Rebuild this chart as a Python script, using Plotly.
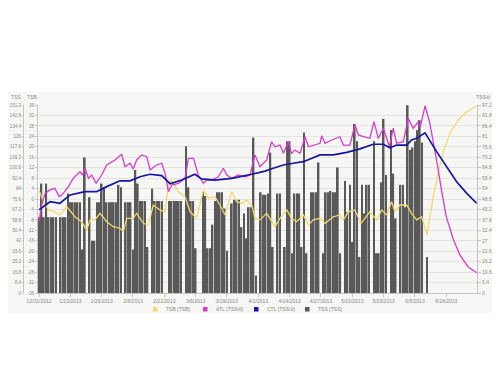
import plotly.graph_objects as go
import pandas as pd

# ---------------- data ----------------
start_date = "2012-12-31"

# daily TSS (bars), starting 12/31/2012
tss = [61, 88, 61, 88, 61, 61, 61, 61, 0, 61,
       61, 61, 80, 73, 73, 73, 73, 73, 35, 109,
       0, 77, 42, 42, 73, 73, 88, 85, 73, 73,
       73, 73, 73, 87, 85, 0, 73, 73, 73, 35,
       99, 88, 74, 74, 74, 37, 0, 84, 74, 74,
       74, 74, 0, 0, 74, 74, 74, 74, 74, 74,
       0, 118, 85, 74, 74, 36, 0, 0, 81, 78,
       36, 36, 55, 74, 81, 81, 81, 68, 34, 0,
       72, 75, 75, 75, 53, 64, 44, 69, 69, 125,
       14, 0, 81, 79, 79, 80, 113, 37, 0, 80,
       80, 0, 37, 122, 122, 32, 80, 80, 80, 37,
       129, 32, 0, 81, 81, 81, 105, 0, 32, 81,
       81, 82, 81, 81, 101, 32, 0, 90, 65, 87,
       41, 136, 122, 29, 87, 64, 87, 87, 0, 122,
       32, 32, 89, 140, 95, 0, 131, 96, 60, 0,
       87, 87, 69, 151, 115, 117, 122, 131, 139, 121,
       0, 29]

# ATL (TSS/d): (day offset from start, value)
atl_points = [(0, 36.9), (1.1, 45.5), (2.5, 51.5), (4.6, 53.3), (6.6, 54.1), (8.4, 49.8),
              (10.1, 51.5), (12.2, 55), (14.2, 59.3), (17, 62.7), (18.1, 61), (19.1, 64.5),
              (20.5, 59.3), (21.9, 61), (23.7, 56.7), (26, 61), (28.1, 66.2), (31.5, 68.8),
              (34.3, 71.7), (35.7, 65.3), (37.8, 67.1), (39.1, 64.1), (40.5, 68.8), (42.6, 71.4),
              (44.7, 70.5), (46.1, 63.6), (48.8, 66.2), (50.9, 67.1), (52.3, 62), (53.7, 52.4),
              (55.1, 55.8), (57.8, 56.7), (60.6, 59.3), (62, 69.6), (64.1, 69.6), (66.1, 61),
              (68.2, 56.7), (69.6, 58.4), (71.7, 58.4), (74.4, 60.1), (76.5, 64.5), (77.9, 61),
              (80, 59.3), (82.7, 61), (85.5, 60.1), (87.6, 61), (89.6, 71.4), (91.7, 65.3),
              (94.5, 68.8), (96.5, 78.2), (97.9, 75.6), (100, 76.5), (101.4, 72.2), (103.5, 78.2),
              (104.8, 72.2), (106.2, 73.9), (108.3, 72.2), (110.4, 80.8), (111.8, 75.6),
              (113.8, 76.5), (116.6, 77.4), (117.3, 81.3), (118.7, 77.4), (121.4, 79.1),
              (124.9, 80.8), (126.3, 76.5), (129, 76.5), (131.1, 86.9), (132.5, 81.7),
              (134.6, 80.8), (137.3, 80), (139, 88.6), (140.8, 80), (142.9, 85.2), (144.3, 79.1),
              (145.4, 75.6), (147, 85.2), (148.4, 77.4), (151.2, 78.2), (153.2, 90.3),
              (155.3, 85.2), (157.4, 88.6), (158.1, 85.2), (160.2, 96.8), (162.2, 87.7),
              (164, 76), (165.5, 65), (167, 53.3), (169, 39.5), (172, 27.4), (174.7, 19.6),
              (178, 13.6), (181.6, 10.5)]

# CTL (TSS/d)
ctl_points = [(0, 43), (4.6, 47.2), (8.7, 46.4), (12.9, 50.7), (19.1, 52.4), (23.9, 52.4),
              (28.1, 55), (33.6, 58), (37.8, 58), (41.9, 60.1), (46.1, 61.4), (50.9, 60.7),
              (54.4, 56.5), (59.2, 58.4), (64.7, 61.4), (67.5, 59), (73, 58.4), (80, 59.3),
              (88.3, 61.4), (93.8, 63), (97.2, 64.5), (101.4, 66.2), (105.5, 67.1), (109.7, 67.9),
              (116.6, 71.4), (122.1, 71.4), (127.7, 72.7), (133.2, 74.5), (138.7, 76.9),
              (142.9, 76.9), (145.6, 75.1), (148.4, 76.5), (152.6, 76.5), (154.6, 79.1),
              (156.7, 80), (160.2, 82.8), (165, 73.1), (169, 65.3), (173.3, 57.5), (177.5, 51.5),
              (181.6, 46.4)]

# TSB
tsb_points = [(0, 3.4), (1.8, -1), (3.9, -4.2), (6.6, -4.9), (8.7, -6.1), (11.5, -2.9),
              (14.9, -6.8), (17.7, -8.7), (19.8, -11.9), (21.2, -8), (23.2, -8), (25.3, -5.5),
              (28.1, -8.7), (30.8, -10.6), (33.6, -11.2), (35, -12.5), (36.4, -7.4), (39.1, -7.4),
              (40.5, -5.5), (43.3, -9.3), (45.4, -10), (47.4, -2.3), (50.2, -4.2), (52.3, -4.9),
              (53.7, 5.4), (55.1, 7.3), (57.8, 2.8), (60.6, 0.9), (62.7, -4.9), (65.4, -7.4),
              (68.2, 3.4), (70.3, 0.3), (73, 0.9), (75.1, -2.3), (77.2, -6.1), (80, 2.8),
              (82, -1), (84.1, -1.7), (86.2, -0.4), (88.3, -2.3), (89.6, -7.4), (91.7, -8),
              (94.5, -5.5), (97.9, -10.6), (100, -7.4), (102.8, -4.2), (104.8, -7.4),
              (106.9, -8.7), (109.7, -6.1), (111.8, -10), (113.8, -8), (116.6, -7.4),
              (118.7, -9.3), (122.1, -6.8), (124.9, -6.1), (126.3, -8), (128.4, -4.9),
              (131.1, -4.2), (133.6, -9.3), (137.3, -4.9), (140.1, -8), (142.2, -4.2),
              (144.3, -6.1), (146.3, -1), (147.7, -4.9), (149.8, -2.3), (152.6, -2.3),
              (154.6, -5.5), (156.7, -8), (158.8, -6.8), (161, -13.8), (163.6, 0.9),
              (165.7, 10.5), (167.8, 18.1), (170.5, 25.2), (174, 30.3), (177.5, 33.4),
              (181.6, 35.6)]

# axis ticks
tss_ticks = ["0", "8.4", "16.8", "25.2", "33.6", "42", "50.4", "58.8", "67.2", "75.6", "84",
             "92.4", "100.8", "109.2", "117.6", "126", "134.4", "142.8", "151.2"]
tsb_ticks = ["-36", "-32", "-28", "-24", "-20", "-16", "-12", "-8", "-4", "0", "4", "8", "12",
             "16", "20", "24", "28", "32", "36"]
tssd_ticks = ["0", "5.4", "10.8", "16.2", "21.6", "27", "32.4", "37.8", "43.2", "48.6", "54",
              "59.4", "64.8", "70.2", "75.6", "81", "86.4", "91.8", "97.2"]
date_ticks = ["2012-12-31", "2013-01-13", "2013-01-26", "2013-02-08", "2013-02-21",
              "2013-03-06", "2013-03-19", "2013-04-01", "2013-04-14", "2013-04-27",
              "2013-05-10", "2013-05-23", "2013-06-05", "2013-06-18"]
date_labels = ["12/31/2012", "1/13/2013", "1/26/2013", "2/8/2013", "2/21/2013", "3/6/2013",
               "3/19/2013", "4/1/2013", "4/14/2013", "4/27/2013", "5/10/2013", "5/23/2013",
               "6/5/2013", "6/18/2013"]

legend_names = ["TSB (TSB)", "ATL (TSS/d)", "CTL (TSS/d)", "TSS (TSS)"]

# ---------------- styling ----------------
C_TSB = "#f0da6a"
C_ATL = "#d63ccf"
C_CTL = "#16169e"
C_TSS = "#595959"
TXT = "#8a8a8a"
AX = "#c4c4c4"
FONT = "Liberation Sans, Arial, sans-serif"
FS = 5

# the page body adds an 8px offset; the figure is laid out in page pixels minus that offset
OFF = 8
W, H = 500 - OFF, 375 - 2 * OFF
PL, PR, PT, PB = 38, 477, 105, 293          # plot area in page pixels
ML = 7
MR = W - (PR - OFF)
MT = PT - OFF
MB = H - (PB - OFF)
PW, PH = W - ML - MR, H - MT - MB


def fx(px):
    return (px - OFF - ML) / PW


def fy(py):
    return (H - MB - (py - OFF)) / PH


t0 = pd.Timestamp(start_date)


def to_dates(days):
    return [t0 + pd.Timedelta(days=float(d)) for d in days]


bar_dates = pd.date_range(start_date, periods=len(tss), freq="D")
atl_d, atl_v = zip(*atl_points)
ctl_d, ctl_v = zip(*ctl_points)
tsb_d, tsb_v = zip(*tsb_points)

fig = go.Figure()
fig.add_trace(go.Bar(x=bar_dates, y=tss, name=legend_names[3],
                     marker=dict(color=C_TSS, line=dict(width=0)), yaxis="y"))
fig.add_trace(go.Scatter(x=to_dates(tsb_d), y=tsb_v, name=legend_names[0], mode="lines",
                         line=dict(color=C_TSB, width=1.3), yaxis="y2"))
fig.add_trace(go.Scatter(x=to_dates(atl_d), y=atl_v, name=legend_names[1], mode="lines",
                         line=dict(color=C_ATL, width=1.3), yaxis="y3"))
fig.add_trace(go.Scatter(x=to_dates(ctl_d), y=ctl_v, name=legend_names[2], mode="lines",
                         line=dict(color=C_CTL, width=1.7), yaxis="y3"))

tick_font = dict(family=FONT, size=FS, color=TXT)
x_range = [t0 - pd.Timedelta(hours=10), t0 + pd.Timedelta(days=181.75)]

fig.update_layout(
    width=W, height=H, autosize=False,
    margin=dict(l=ML, r=MR, t=MT, b=MB, pad=0),
    paper_bgcolor="white",
    plot_bgcolor="rgba(0,0,0,0)",
    bargap=0.3,
    font=dict(family=FONT, size=FS, color=TXT),
    showlegend=False,
    xaxis=dict(type="date", range=x_range, domain=[fx(PL), 1], automargin=False,
               tickvals=date_ticks, ticktext=date_labels, tickangle=0,
               ticks="outside", ticklen=3, tickcolor=AX,
               showline=True, linecolor=AX, linewidth=1,
               showgrid=False, zeroline=False, tickfont=tick_font),
    yaxis=dict(range=[0, 151.2], tickvals=[float(v) for v in tss_ticks], ticktext=tss_ticks,
               anchor="free", position=fx(23), side="left", automargin=False,
               ticks="outside", ticklen=1, tickcolor=AX,
               showline=True, linecolor=AX, linewidth=1,
               showgrid=True, gridcolor="#e4e4e4", gridwidth=1,
               zeroline=False, tickfont=dict(family=FONT, size=4.6, color=TXT)),
    yaxis2=dict(range=[-36, 36], tickvals=[float(v) for v in tsb_ticks], ticktext=tsb_ticks,
                overlaying="y", anchor="x", side="left", automargin=False,
                ticks="outside", ticklen=2, tickcolor=AX,
                showline=True, linecolor=AX, linewidth=1,
                showgrid=False, zeroline=False, tickfont=dict(family=FONT, size=4.6, color=TXT)),
    yaxis3=dict(range=[0, 97.2], tickvals=[float(v) for v in tssd_ticks], ticktext=tssd_ticks,
                overlaying="y", anchor="x", side="right", automargin=False,
                ticks="outside", ticklen=3, tickcolor=AX,
                showline=True, linecolor=AX, linewidth=1,
                showgrid=False, zeroline=False, tickfont=tick_font),
)

shapes = [dict(type="rect", xref="paper", yref="paper", x0=fx(0), x1=fx(500), y0=fy(313), y1=fy(92),
               fillcolor="#f6f6f4", line=dict(width=0), layer="below")]
annotations = []
for txt, px in [("TSS", 16), ("TSB", 32), ("TSS/d", 483)]:
    annotations.append(dict(text=txt, x=fx(px), y=fy(97), xref="paper", yref="paper",
                            showarrow=False, xanchor="center", yanchor="middle",
                            font=dict(family=FONT, size=FS, color=TXT)))

# legend row
legend_colors = [C_TSB, C_ATL, C_CTL, C_TSS]
legend_sq = [153, 203, 254, 305]
for name, col, sx in zip(legend_names, legend_colors, legend_sq):
    shapes.append(dict(type="rect", xref="paper", yref="paper", x0=fx(sx), x1=fx(sx + 4.5),
                       y0=fy(311.5), y1=fy(307), fillcolor=col, line=dict(width=0)))
    annotations.append(dict(text=name, x=fx(sx + 10.5), y=fy(309.3), xref="paper", yref="paper",
                            showarrow=False, xanchor="left", yanchor="middle",
                            font=dict(family=FONT, size=FS, color=TXT)))

fig.update_layout(shapes=shapes, annotations=annotations)
fig.write_html("out.html")
